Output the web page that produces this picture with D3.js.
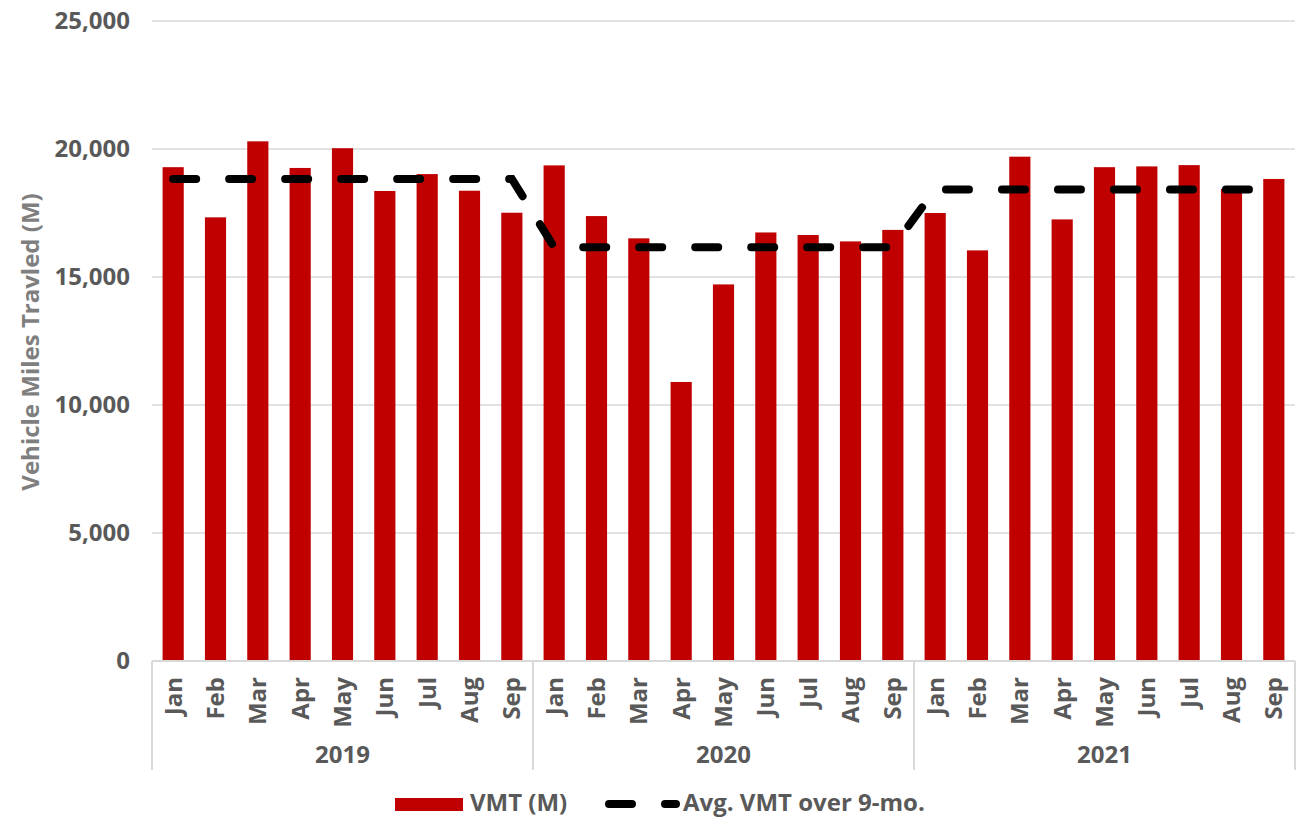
<!DOCTYPE html>
<html>
<head>
<meta charset="utf-8">
<script src="https://cdn.jsdelivr.net/npm/d3@7"></script>
<style>
  body { margin: 0; background: #fff; }
  text { font-family: "Open Sans", sans-serif; font-weight: 700; }
</style>
</head>
<body>
<div id="chart"></div>
<script>
// data
const years = ['2019', '2020', '2021'];
const months = ['Jan', 'Feb', 'Mar', 'Apr', 'May', 'Jun', 'Jul', 'Aug', 'Sep'];
const vmt2019 = [19290, 17330, 20300, 19260, 20030, 18360, 19020, 18370, 17510];
const vmt2020 = [19360, 17380, 16510, 10900, 14710, 16740, 16640, 16390, 16840];
const vmt2021 = [17500, 16040, 19700, 17250, 19290, 19320, 19370, 18440, 18830];
const avgVmt = [18830, 16165, 18420];
const yTicks = [0, 5000, 10000, 15000, 20000, 25000];

const width = 1312, height = 817;
const margin = {top: 21, right: 17, bottom: 156, left: 152};
const fs = '24px';

const svg = d3.select('#chart')
  .append('svg')
  .attr('width', width)
  .attr('height', height);

// flatten into rows
const rows = [];
[vmt2019, vmt2020, vmt2021].forEach((arr, yi) => {
  arr.forEach((v, mi) => {
    rows.push({key: yi + '-' + mi, year: yi, month: months[mi], value: v, avg: avgVmt[yi]});
  });
});

const x = d3.scaleBand()
  .domain(rows.map(d => d.key))
  .range([margin.left, width - margin.right])
  .paddingInner(0.5)
  .paddingOuter(0.25);

const y = d3.scaleLinear()
  .domain([0, 25000])
  .range([height - margin.bottom, margin.top]);

const grey = '#595959';
const lineGrey = '#d9d9d9';

// gridlines
svg.append('g')
  .selectAll('line')
  .data(yTicks.slice(1))
  .enter()
  .append('line')
  .attr('x1', margin.left)
  .attr('x2', width - margin.right)
  .attr('y1', d => y(d))
  .attr('y2', d => y(d))
  .attr('stroke', lineGrey)
  .attr('stroke-width', 1.5);

// y tick labels
svg.append('g')
  .selectAll('text')
  .data(yTicks)
  .enter()
  .append('text')
  .attr('x', 130)
  .attr('y', d => y(d))
  .attr('dy', '0.35em')
  .attr('text-anchor', 'end')
  .attr('fill', grey)
  .style('font-size', fs)
  .text(d => d3.format(',')(d));

// y title
svg.append('text')
  .attr('transform', 'translate(39, 342) rotate(-90)')
  .attr('text-anchor', 'middle')
  .attr('fill', '#7f7f7f')
  .style('font-size', fs)
  .text('Vehicle Miles Travled (M)');

// bars
svg.append('g')
  .selectAll('rect')
  .data(rows)
  .enter()
  .append('rect')
  .attr('x', d => x(d.key))
  .attr('y', d => y(d.value))
  .attr('width', x.bandwidth())
  .attr('height', d => y(0) - y(d.value))
  .attr('fill', '#c00000');

// x axis baseline
const base = y(0);
svg.append('line')
  .attr('x1', margin.left)
  .attr('x2', width - margin.right)
  .attr('y1', base)
  .attr('y2', base)
  .attr('stroke', lineGrey)
  .attr('stroke-width', 2);

// year separators
const step = x.step();
const sepX = [0, 9, 18, 27].map(i => margin.left + i * step);
svg.append('g')
  .selectAll('line')
  .data(sepX)
  .enter()
  .append('line')
  .attr('x1', d => d)
  .attr('x2', d => d)
  .attr('y1', base)
  .attr('y2', base + 109)
  .attr('stroke', lineGrey)
  .attr('stroke-width', 2);

// month labels
svg.append('g')
  .selectAll('text')
  .data(rows)
  .enter()
  .append('text')
  .attr('transform', d => `translate(${x(d.key) + x.bandwidth() / 2}, ${base + 16}) rotate(-90)`)
  .attr('text-anchor', 'end')
  .attr('dy', '0.35em')
  .attr('fill', grey)
  .style('font-size', fs)
  .text(d => d.month);

// year labels
svg.append('g')
  .selectAll('text')
  .data(years)
  .enter()
  .append('text')
  .attr('x', (d, i) => (sepX[i] + sepX[i + 1]) / 2)
  .attr('y', base + 94)
  .attr('dy', '0.35em')
  .attr('text-anchor', 'middle')
  .attr('fill', grey)
  .style('font-size', fs)
  .text(d => d);

// avg line
const avgLine = d3.line()
  .x(d => x(d.key) + x.bandwidth() / 2)
  .y(d => y(d.avg));

svg.append('path')
  .datum(rows)
  .attr('d', avgLine)
  .attr('fill', 'none')
  .attr('stroke', '#000')
  .attr('stroke-width', 8)
  .attr('stroke-linecap', 'round')
  .attr('stroke-dasharray', '23 33');

// legend
const lg = svg.append('g');
lg.append('rect')
  .attr('x', 395)
  .attr('y', 798)
  .attr('width', 68)
  .attr('height', 13)
  .attr('fill', '#c00000');
lg.append('text')
  .attr('x', 470)
  .attr('y', 803)
  .attr('dy', '0.35em')
  .attr('fill', grey)
  .style('font-size', fs)
  .text('VMT (M)');
lg.append('line')
  .attr('x1', 609)
  .attr('x2', 676)
  .attr('y1', 804)
  .attr('y2', 804)
  .attr('stroke', '#000')
  .attr('stroke-width', 8)
  .attr('stroke-linecap', 'round')
  .attr('stroke-dasharray', '23 33');
lg.append('text')
  .attr('x', 683)
  .attr('y', 803)
  .attr('dy', '0.35em')
  .attr('fill', grey)
  .style('font-size', fs)
  .text('Avg. VMT over 9-mo.');
</script>
</body>
</html>
